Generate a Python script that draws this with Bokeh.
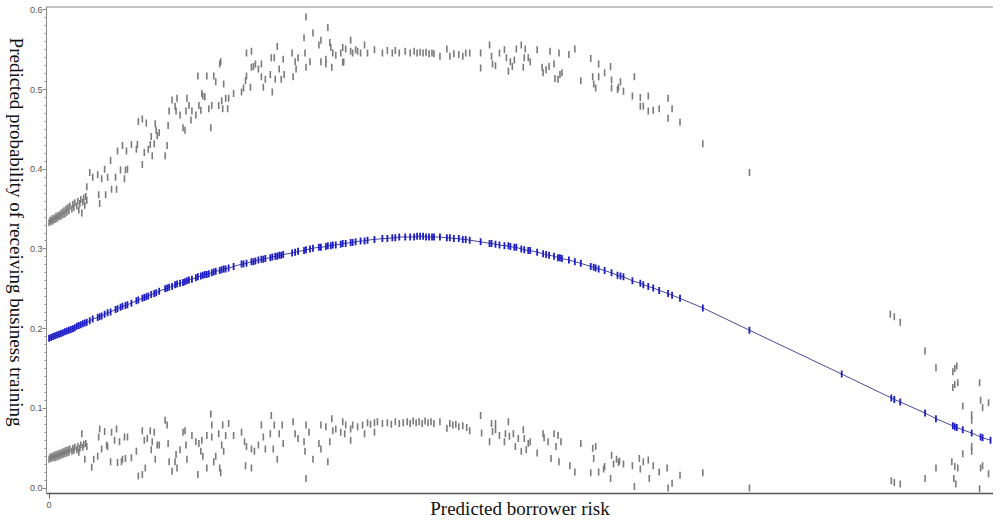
import numpy as np
from bokeh.plotting import figure
from bokeh.layouts import row
from bokeh.models import Range1d, FixedTicker, PrintfTickFormatter, Span, Label
from bokeh.embed import file_html
from bokeh.resources import INLINE

# ---- data: (predicted borrower risk, predicted probability) ----
upper_band = [
    (0,.333),(1,.336),(2,.334),(3,.338),(4,.335),(5,.339),(6,.337),(7,.341),(8,.338),(9,.342),(10,.340),(11,.344),
    (12,.341),(13,.346),(14,.343),(15,.348),(16,.344),(17,.350),(18,.346),(19,.352),(20,.348),(21,.354),(23,.350),
    (24,.356),(25,.352),(26,.358),(28,.354),(29,.360),(30,.349),(31,.357),(32,.362),(33,.345),(34,.359),(35,.364),
    (36,.355),(37,.366),(38,.361),
    (38,.378),(41,.396),(44,.390),(49,.393),(50,.368),(51,.357),(53,.388),(56,.400),(57,.368),(59,.390),(62,.411),
    (63,.375),(67,.390),(68,.375),(69,.423),(72,.399),(74,.430),(76,.388),(77,.399),(78,.423),(79,.400),(83,.431),
    (88,.425),(89,.431),(90,.460),(94,.463),(94,.406),(96,.421),(98,.458),(100,.425),(102,.431),(103,.441),(104,.417),
    (106,.432),(107,.457),(108,.449),(109,.442),(111,.446),(117,.417),(119,.430),(120,.455),(121,.473),(124,.487),
    (127,.479),(128,.473),(129,.489),(132,.468),(135,.452),(137,.449),(138,.473),(139,.489),(141,.480),(143,.462),
    (144,.473),(148,.468),(150,.517),(151,.480),(153,.474),(154,.495),(155,.492),(157,.491),(159,.517),(161,.476),
    (163,.452),(164,.480),(166,.517),(168,.510),(171,.480),(172,.532),(173,.535),(174,.486),(175,.476),(176,.507),
    (178,.489),(180,.476),(181,.489),(186,.495),(194,.497),(196,.502),(198,.511),(199,.546),(199,.517),(203,.503),
    (204,.548),(204,.528),(206,.529),(208,.532),(211,.526),(214,.532),(214,.516),(216,.503),(218,.513),(223,.519),
    (224,.540),(225,.497),(227,.540),(228,.513),(230,.554),(232,.526),(234,.513),(236,.538),(237,.519),(245,.546),
    (246,.516),(248,.535),(249,.526),(251,.540),(257,.565),(258,.546),(259,.591),(259,.528),(263,.535),(266,.571),
    (272,.556),(274,.562),(274,.535),(279,.538),(279,.532),(281,.578),(283,.559),(284,.553),(285,.528),(286,.546),
    (289,.543),(294,.546),(296,.553),(297,.535),(299,.551),(304,.562),(304,.548),(306,.546),(309,.550),
    (296,.534),(311,.548),(314,.546),(318,.556),(321,.546),(328,.550),(336,.546),(341,.549),(346,.546),(349,.549),
    (353,.546),(359,.548),(364,.546),(368,.548),(371,.546),(374,.547),(377,.546),(380,.547),(383,.545),(386,.546),
    (388,.545),(394,.542),(401,.551),(404,.542),(408,.545),(413,.544),(417,.542),(420,.546),(424,.546),(435,.546),
    (435,.527),(444,.556),(446,.542),(447,.532),(450,.530),(454,.546),(459,.550),(461,.540),(463,.523),(465,.535),
    (467,.529),(469,.537),(471,.551),(476,.556),(478,.528),(479,.540),(480,.551),(483,.540),(485,.535),(492,.550),
    (497,.528),(498,.521),(501,.525),(504,.529),(505,.548),(509,.532),(510,.514),(513,.513),(514,.546),(515,.519),
    (517,.521),(524,.544),(530,.551),(536,.511),(546,.539),(548,.516),(549,.507),(551,.502),(554,.532),(554,.516),
    (560,.521),(566,.529),(567,.512),(567,.502),(573,.500),(574,.503),(576,.510),(579,.498),(588,.492),(590,.516),
    (596,.490),(596,.479),(599,.479),(604,.492),(604,.473),(609,.474),(615,.476),(624,.489),(624,.464),(628,.476),
    (636,.459),(659,.432),(706,.396),
    (848,.218),(852,.215),(858,.208),(883,.172),(894,.151),(911,.146),(913,.150),(915,.153),(911,.126),(913,.130),
    (916,.132),(921,.103),(930,.092),(930,.085),(938,.132),(939,.110),(941,.101),(947,.107),
]

lower_band = [
    (0,.036),(1,.039),(2,.037),(3,.040),(4,.038),(5,.041),(6,.038),(7,.042),(8,.039),(9,.043),(10,.040),(11,.044),
    (12,.041),(13,.045),(14,.042),(15,.046),(16,.043),(17,.047),(18,.044),(19,.048),(20,.045),(21,.049),(23,.046),
    (24,.050),(25,.047),(26,.051),(28,.048),(29,.052),(30,.045),(31,.050),(32,.054),(33,.068),(34,.051),(35,.055),
    (36,.036),(37,.056),(38,.052),
    (43,.026),(45,.036),(49,.040),(50,.064),(51,.074),(53,.049),(56,.071),(58,.054),(59,.052),(62,.033),(63,.070),
    (66,.060),(68,.074),(69,.032),(71,.058),(73,.033),(74,.036),(76,.064),(77,.037),(79,.064),(83,.038),(88,.046),
    (90,.015),(94,.017),(94,.072),(96,.060),(97,.025),(99,.062),(102,.072),(103,.048),(104,.058),(106,.070),(107,.036),
    (109,.054),(111,.054),(117,.085),(119,.079),(120,.056),(121,.033),(124,.021),(127,.033),(128,.042),(129,.025),
    (132,.048),(135,.070),(137,.072),(138,.054),(139,.036),(144,.066),(148,.058),(150,.017),(151,.056),(153,.046),
    (154,.060),(155,.040),(159,.066),(159,.025),(163,.093),(164,.079),(164,.064),(166,.033),(168,.040),(171,.068),
    (172,.025),(173,.019),(174,.054),(175,.079),(176,.046),(178,.066),(181,.081),(186,.066),(194,.070),(197,.058),
    (198,.028),(199,.052),(204,.025),(204,.049),(207,.046),(211,.054),(214,.079),(216,.064),(218,.049),(223,.068),
    (224,.091),(226,.049),(227,.079),(230,.036),(232,.068),(235,.079),(236,.056),(246,.083),(248,.068),(251,.062),
    (257,.058),(258,.046),(259,.079),(259,.012),(262,.070),(266,.036),(272,.056),(274,.049),(274,.079),(279,.077),
    (281,.033),(283,.058),(285,.087),(286,.072),(289,.074),(294,.070),(296,.083),(298,.068),(299,.079),(304,.060),
    (304,.074),(306,.079),(311,.077),(316,.079),(318,.068),(321,.082),(328,.082),
    (324,.080),(328,.070),(331,.083),(336,.081),(341,.082),(345,.080),(349,.083),(353,.081),(357,.082),(361,.083),
    (364,.081),(367,.084),(370,.082),(373,.083),(376,.081),(379,.084),(382,.082),(385,.083),(388,.081),(394,.083),
    (401,.075),(404,.081),(407,.079),(410,.080),(413,.077),(417,.078),(421,.076),(424,.072),(435,.091),(436,.069),
    (444,.058),(446,.081),(447,.071),(450,.081),(450,.073),(454,.066),(459,.058),(460,.068),(463,.083),(464,.065),
    (468,.068),(470,.052),(473,.062),(476,.046),(478,.073),(479,.062),(481,.048),(483,.056),(485,.058),(492,.044),
    (498,.068),(499,.063),(503,.058),(506,.037),(509,.068),(511,.052),(513,.066),(514,.033),(516,.058),(525,.028),
    (530,.020),(536,.056),(546,.019),(548,.050),(549,.037),(551,.052),(554,.020),(559,.024),(560,.027),(566,.012),
    (567,.041),(569,.030),(572,.036),(574,.032),(575,.034),(579,.030),(588,.028),(590,.002),(595,.037),(596,.024),
    (599,.033),(604,.035),(605,.012),(609,.028),(615,.020),(623,.025),(624,.000),(628,.006),(636,.016),(659,.019),
    (706,.000),
    (849,.009),(852,.007),(858,.005),(883,.012),(894,.025),(910,.033),(913,.027),(912,.012),(914,.005),(916,.025),
    (921,.043),(930,.052),(930,.046),(939,.025),(941,.028),(938,-.001),(947,.018),
]

fitted = [
    (0,.188),(2,.189),(4,.190),(6,.191),(8,.192),(10,.193),(12,.194),(14,.195),(16,.196),(18,.197),(20,.198),
    (22,.199),(24,.200),(26,.201),(28,.203),(30,.204),(32,.205),(34,.206),(36,.207),(38,.208),(41,.210),(44,.212),
    (49,.214),(51,.215),(53,.216),(56,.218),(59,.220),(62,.221),(67,.224),(69,.225),(72,.227),(74,.228),(77,.229),
    (79,.230),(83,.232),(88,.235),(90,.236),(94,.238),(96,.239),(98,.240),(100,.241),(103,.243),(106,.244),(108,.245),
    (111,.247),(117,.250),(119,.251),(121,.252),(124,.253),(127,.255),(129,.256),(132,.257),(135,.258),(137,.259),
    (139,.260),(141,.261),(144,.262),(148,.264),(150,.265),(153,.266),(155,.267),(157,.268),(159,.268),(161,.269),
    (164,.270),(166,.271),(168,.272),(172,.273),(174,.274),(176,.275),(178,.275),(181,.276),(186,.278),(194,.281),
    (196,.281),(199,.282),(204,.284),(206,.284),(208,.285),(211,.286),(214,.287),(216,.287),(218,.288),(223,.289),
    (225,.290),(228,.291),(230,.291),(232,.292),(234,.292),(236,.293),(245,.295),(248,.296),(251,.297),(257,.298),
    (259,.299),(263,.300),(266,.301),(272,.302),(274,.302),(279,.303),(281,.304),(284,.304),(286,.305),(289,.305),
    (294,.306),(296,.307),(299,.307),(304,.308),(306,.308),(309,.309),(314,.310),(318,.310),(321,.311),(328,.312),
    (336,.313),(341,.313),(346,.314),(349,.314),(353,.315),(359,.315),(364,.315),(368,.315),(371,.316),(374,.316),
    (377,.316),(380,.315),(383,.315),(386,.315),(388,.315),(394,.315),(401,.314),(404,.314),(408,.313),(413,.313),
    (417,.312),(420,.312),(424,.311),(435,.309),(444,.307),(446,.307),(450,.306),(454,.305),(459,.304),(463,.304),
    (465,.303),(469,.302),(471,.302),(476,.300),(479,.299),(483,.298),(485,.298),(492,.296),(498,.294),(501,.293),
    (504,.292),(509,.291),(513,.289),(515,.289),(517,.288),(524,.286),(530,.284),(536,.282),(546,.278),(549,.277),
    (551,.276),(554,.275),(560,.273),(567,.270),(573,.267),(576,.266),(579,.265),(588,.260),(596,.257),(599,.255),
    (604,.253),(609,.251),(615,.248),(624,.244),(628,.242),(636,.238),(659,.226),(706,.198),(799,.143),(849,.113),
    (852,.111),(858,.108),(883,.094),(894,.087),(911,.078),(913,.077),(915,.076),(921,.073),(930,.069),(939,.064),
    (941,.063),(949,.060),
]

y_ticks = [0.0, 0.1, 0.2, 0.3, 0.4, 0.5, 0.6]
y_minor = [i / 100 for i in range(0, 61)]
x_ticks = [0]
x_title = "Predicted borrower risk"
y_title = "Predicted probability of receiving business training"

ux, uy = zip(*upper_band)
lx, ly = zip(*lower_band)
fx, fy = zip(*sorted(fitted))

H = 521
TW = 26          # width of the strip that holds the y title
W = 993 - TW
Y_END = 0.6043

# ---- strip on the left carrying the y-axis title (reads top to bottom) ----
t = figure(width=TW, height=H, output_backend="svg", toolbar_location=None,
           x_axis_type=None, y_axis_type=None, x_range=Range1d(0, 1), y_range=Range1d(0, 1),
           min_border=0, outline_line_color=None)
t.xgrid.visible = False
t.ygrid.visible = False
t.add_layout(Label(x=15.5, y=H - 259.5, x_units="screen", y_units="screen", text=y_title, angle=-np.pi / 2,
                   text_font="Liberation Serif", text_font_size="19px", text_color="#111111",
                   text_align="center", text_baseline="middle"))

# ---- main plot ----
p = figure(width=W, height=H, output_backend="svg", toolbar_location=None,
           x_range=Range1d(-2.6, 952), y_range=Range1d(-0.0069, Y_END),
           min_border_left=20, min_border_right=0, min_border_top=6, min_border_bottom=26)
p.xgrid.visible = False
p.ygrid.visible = False
p.outline_line_color = None
p.background_fill_color = "white"
p.border_fill_color = "white"

# top border line of the frame
p.add_layout(Span(location=Y_END, dimension="width", line_color="#8a8a8a", line_width=2))

gray = "#7a7a7a"
blue = "#1c1cc4"
p.scatter(ux, uy, marker="dash", angle=np.pi / 2, size=7, line_color=gray, line_width=1.6)
p.scatter(lx, ly, marker="dash", angle=np.pi / 2, size=7, line_color=gray, line_width=1.6)
p.line(fx, fy, line_color="#4a4a9a", line_width=1)
p.scatter(fx, fy, marker="dash", angle=np.pi / 2, size=7, line_color=blue, line_width=1.8)

# y axis
ya = p.yaxis[0]
ya.ticker = FixedTicker(ticks=y_ticks, minor_ticks=y_minor)
ya.formatter = PrintfTickFormatter(format="%.1f")
ya.axis_line_color = "#8a8a8a"
ya.major_tick_line_color = "#8a8a8a"
ya.minor_tick_line_color = "#8a8a8a"
ya.major_tick_out = 4
ya.major_tick_in = 0
ya.minor_tick_out = 2
ya.minor_tick_in = 0
ya.major_label_text_font = "Liberation Sans"
ya.major_label_text_font_size = "9px"
ya.major_label_text_color = "#555555"
ya.major_label_standoff = 0

# x axis
xa = p.xaxis[0]
xa.ticker = FixedTicker(ticks=x_ticks, minor_ticks=[])
xa.axis_line_color = "#555555"
xa.axis_line_width = 1.5
xa.major_tick_line_color = "#666666"
xa.major_tick_out = 5
xa.major_tick_in = 0
xa.major_label_text_font = "Liberation Sans"
xa.major_label_text_font_size = "9px"
xa.major_label_text_color = "#555555"
xa.major_label_standoff = 3
xa.axis_label = x_title
xa.axis_label_standoff_mode = "axis"
xa.axis_label_standoff = 4
xa.axis_label_text_font = "Liberation Serif"
xa.axis_label_text_font_size = "19px"
xa.axis_label_text_font_style = "normal"
xa.axis_label_text_color = "#111111"

layout = row(t, p, spacing=0)
open("out.html", "w").write(file_html(layout, INLINE))
